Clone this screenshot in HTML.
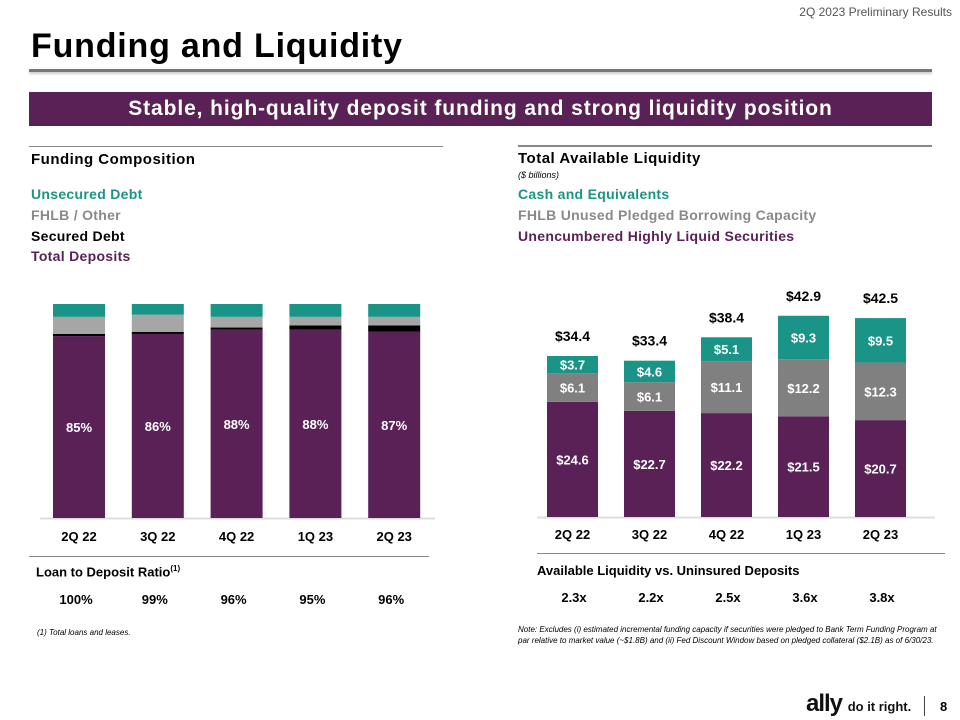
<!DOCTYPE html>
<html><head><meta charset="utf-8"><style>
body{margin:0;width:960px;height:720px;background:#fff;position:relative;overflow:hidden;font-family:"Liberation Sans",sans-serif}
.a{position:absolute;white-space:nowrap}
.b{font-weight:bold}
</style></head><body>
<div class="a" style="right:8px;top:5px;font-size:12px;color:#555">2Q 2023 Preliminary Results</div>
<div class="a b" style="left:31px;top:27px;font-size:34px;letter-spacing:0.8px;color:#000">Funding and Liquidity</div>
<div class="a" style="left:29px;top:69px;width:903px;height:3px;background:#777;box-shadow:0 2px 2px #ccc"></div>
<div class="a b" style="left:29px;top:92px;width:903px;height:34px;background:#5a2157;color:#fff;font-size:21px;letter-spacing:0.9px;text-align:center;line-height:34px">Stable, high-quality deposit funding and strong liquidity position</div>
<div class="a" style="left:29px;top:146px;width:414px;height:1px;background:#888"></div>
<div class="a" style="left:518px;top:145px;width:414px;height:2px;background:#888"></div>
<div class="a b" style="left:31px;top:151px;font-size:15px;letter-spacing:0.5px">Funding Composition</div>
<div class="a b" style="left:31px;top:186px;font-size:14px;letter-spacing:0.3px;color:#1a9486">Unsecured Debt</div>
<div class="a b" style="left:31px;top:207px;font-size:14px;letter-spacing:0.3px;color:#8a8a8a">FHLB / Other</div>
<div class="a b" style="left:31px;top:228px;font-size:14px;letter-spacing:0.3px;color:#000">Secured Debt</div>
<div class="a b" style="left:31px;top:248px;font-size:14px;letter-spacing:0.3px;color:#5a2157">Total Deposits</div>
<div class="a b" style="left:518px;top:150px;font-size:15px;letter-spacing:0.5px">Total Available Liquidity</div>
<div class="a" style="left:518px;top:170px;font-size:9px;font-style:italic">($ billions)</div>
<div class="a b" style="left:518px;top:186px;font-size:14px;letter-spacing:0.3px;color:#1a9486">Cash and Equivalents</div>
<div class="a b" style="left:518px;top:207px;font-size:14px;letter-spacing:0.3px;color:#8a8a8a">FHLB Unused Pledged Borrowing Capacity</div>
<div class="a b" style="left:518px;top:228px;font-size:14px;letter-spacing:0.3px;color:#5a2157">Unencumbered Highly Liquid Securities</div>
<svg class="a" style="left:0;top:0" width="960" height="720" font-family="Liberation Sans, sans-serif">
<g id="left"></g><g id="right"></g>
</svg>
<div class="a" style="left:29px;top:556px;width:400px;height:1px;background:#888"></div>
<div class="a" style="left:537px;top:553px;width:408px;height:1px;background:#888"></div>
<div class="a b" style="left:36px;top:564px;font-size:13px">Loan to Deposit Ratio<sup style="font-size:8px">(1)</sup></div>
<div class="a b" style="left:537px;top:563px;font-size:13px">Available Liquidity vs. Uninsured Deposits</div>
<div id="ldr"></div><div id="cov"></div>
<div class="a" style="left:37px;top:628px;font-size:8px;font-style:italic">(1) Total loans and leases.</div>
<div class="a" style="left:518px;top:624px;font-size:8px;font-style:italic;line-height:11px">Note: Excludes (i) estimated incremental funding capacity if securities were pledged to Bank Term Funding Program at<br>par relative to market value (~$1.8B) and (ii) Fed Discount Window based on pledged collateral ($2.1B) as of 6/30/23.</div>
<div class="a b" style="left:806px;top:690px;font-size:24px;color:#111;letter-spacing:-1px">ally <span style="font-size:13px;letter-spacing:0">do it right.</span></div>
<div class="a" style="left:924px;top:696px;width:1px;height:20px;background:#444"></div>
<div class="a b" style="left:940px;top:699px;font-size:13px">8</div>
<script>
const cats=["2Q 22","3Q 22","4Q 22","1Q 23","2Q 23"];
const deposits=[85,86,88,88,87];
const secured=[1,1,1,2,3];
const fhlb=[8,8,5,4,4];
const unsecured=[6,5,6,6,6];
const securities=[24.6,22.7,22.2,21.5,20.7];
const fhlbUnused=[6.1,6.1,11.1,12.2,12.3];
const cash=[3.7,4.6,5.1,9.3,9.5];
const totals=[34.4,33.4,38.4,42.9,42.5];
const ldr=["100%","99%","96%","95%","96%"];
const coverage=["2.3x","2.2x","2.5x","3.6x","3.8x"];
const NS="http://www.w3.org/2000/svg";
function mk(p,t,at){const e=document.createElementNS(NS,t);for(const k in at)e.setAttribute(k,at[k]);p.appendChild(e);return e;}
const L=document.getElementById('left'),R=document.getElementById('right');
const lx=i=>53+i*78.8, ly=v=>518-v*2.14;
const rx=i=>547+i*77, ry=v=>517-v*4.68;
mk(L,'line',{x1:40,x2:435,y1:518.5,y2:518.5,stroke:'#ddd','stroke-width':2});
mk(R,'line',{x1:537,x2:935,y1:517.5,y2:517.5,stroke:'#ddd','stroke-width':2});
cats.forEach((c,i)=>{
  let base=0;
  [[deposits,'#5a2157'],[secured,'#000'],[fhlb,'#a6a6a6'],[unsecured,'#1a9486']].forEach(([arr,col])=>{
    const r=mk(L,'rect',{x:lx(i),y:ly(base+arr[i]),width:52,height:arr[i]*2.14,fill:col});
    
    
    base+=arr[i];
  });
  const t=mk(L,'text',{x:lx(i)+26,y:ly(deposits[i]/2)+5,'text-anchor':'middle',fill:'#fff','font-size':13,'font-weight':'bold'});t.textContent=deposits[i]+'%';
  
  
  const xl=mk(L,'text',{x:lx(i)+26,y:541,'text-anchor':'middle','font-size':13,'font-weight':'bold'});xl.textContent=c;
  
  
  let b=0;
  [[securities,'#5a2157'],[fhlbUnused,'#808080'],[cash,'#1a9486']].forEach(([arr,col])=>{
    const r=mk(R,'rect',{x:rx(i),y:ry(b+arr[i]),width:51,height:arr[i]*4.68,fill:col});
    
    
    const t2=mk(R,'text',{x:rx(i)+25.5,y:ry(b+arr[i]/2)+5,'text-anchor':'middle',fill:'#fff','font-size':13,'font-weight':'bold'});t2.textContent='$'+arr[i].toFixed(1);
    
    
    b+=arr[i];
  });
  const tt=mk(R,'text',{x:rx(i)+25.5,y:ry(totals[i])-15,'text-anchor':'middle','font-size':14,'font-weight':'bold'});tt.textContent='$'+totals[i].toFixed(1);
  
  
  const xr=mk(R,'text',{x:rx(i)+25.5,y:539,'text-anchor':'middle','font-size':13,'font-weight':'bold'});xr.textContent=c;
  
  
  const d=document.createElement('div');d.className='a b';d.style.cssText='top:592px;font-size:13px;width:60px;text-align:center;left:'+(lx(i)-7)+'px';d.textContent=ldr[i];
  
  
  document.getElementById('ldr').appendChild(d);
  const e=document.createElement('div');e.className='a b';e.style.cssText='top:590px;font-size:13px;width:60px;text-align:center;left:'+(rx(i)-3)+'px';e.textContent=coverage[i];
  
  
  document.getElementById('cov').appendChild(e);
});
</script>
</body></html>
